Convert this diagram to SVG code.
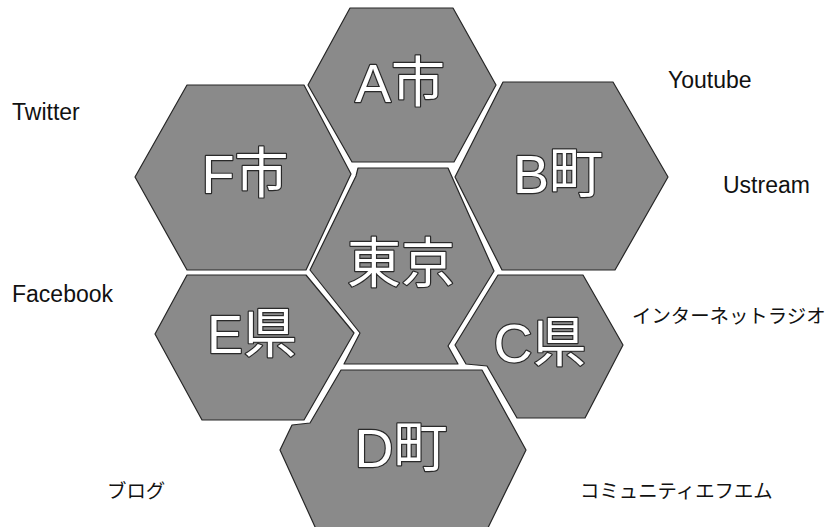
<svg xmlns="http://www.w3.org/2000/svg" width="831" height="527" viewBox="0 0 831 527">
<style>
.hex{fill:#8a8a8a;stroke:#262626;stroke-width:1.2;stroke-linejoin:round}
.lbl{font-family:"Liberation Sans","Noto Sans CJK JP",sans-serif;font-size:54px;fill:#fff;stroke:#2a2a2a;stroke-width:2.4;paint-order:stroke;stroke-linejoin:round;text-anchor:middle}
.side{font-family:"Liberation Sans","Noto Sans CJK JP",sans-serif;font-size:23px;fill:#111}
.sidej{font-family:"Noto Sans CJK JP","Liberation Sans",sans-serif;font-size:19.4px;fill:#111}
</style>
<rect width="831" height="527" fill="#fff"/>
<g id="node-center">
<polygon class="hex" points="358,168 448,168 494,271 448,346 458,364 344,364 360,333 310,270 356,176"/>
<text class="lbl" x="401" y="283" font-size="56">東京</text>
</g>
<g id="node-A">
<polygon class="hex" points="350,8 453,8 496,85 454,162 352,162 308,85"/>
<text class="lbl" x="400" y="102">A市</text>
</g>
<g id="node-F">
<polygon class="hex" points="187,85 304,85 351,174 306,270 187,270 135,177"/>
<text class="lbl" x="245" y="193">F市</text>
</g>
<g id="node-B">
<polygon class="hex" points="503,82 613,82 668,177 615,270 502,270 455,177"/>
<text class="lbl" x="558" y="193">B町</text>
</g>
<g id="node-E">
<polygon class="hex" points="187,275 306,275 354,333 304,420 202,420 155,334"/>
<text class="lbl" x="252" y="353">E県</text>
</g>
<g id="node-C">
<polygon class="hex" points="498,275 583,275 623,345 585,418 517,418 487,366 466,364 455,345"/>
<text class="lbl" x="540" y="362">C県</text>
</g>
<g id="node-D">
<polygon class="hex" points="341,370 482,370 526,450 482,540 321,540 280,450 292,425 310,423"/>
<text class="lbl" x="401" y="467">D町</text>
</g>
<g id="connectors"></g>
<g id="side-labels">
<text class="side" x="12" y="120">Twitter</text>
<text class="side" x="12" y="302">Facebook</text>
<text class="side" x="668" y="88">Youtube</text>
<text class="side" x="723" y="193">Ustream</text>
<text class="sidej" x="632" y="323">インターネットラジオ</text>
<text class="sidej" x="107" y="498">ブログ</text>
<text class="sidej" x="580" y="498">コミュニティエフエム</text>
</g>
</svg>
